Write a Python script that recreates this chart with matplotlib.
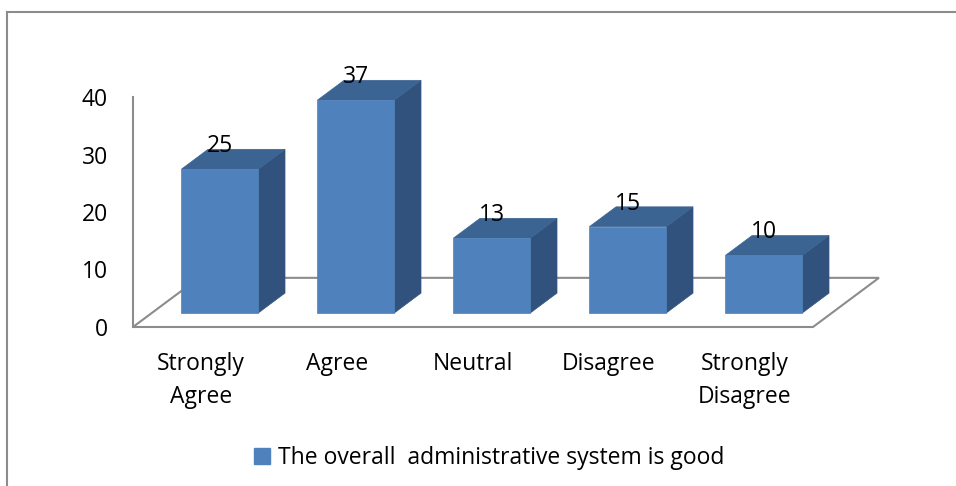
import numpy as np
import matplotlib
matplotlib.use("Agg")
import matplotlib.pyplot as plt
from matplotlib.patches import Polygon, Patch
from matplotlib.lines import Line2D

# Chart data
categories = ["Strongly\nAgree", "Agree", "Neutral", "Disagree", "Strongly\nDisagree"]
values = [25, 37, 13, 15, 10]
series_name = "The overall  administrative system is good"
y_ticks = [0, 10, 20, 30, 40]

plt.rcParams['font.family'] = ['Open Sans', 'DejaVu Sans']

FRONT = '#4F81BD'
TOP = '#3C6493'
SIDE = '#31527C'
GRID = '#8C8C8C'
FS = 16.5

# depth projection (in data units of the front plane)
DX = 0.485
DY = 8.55
BAR_D0, BAR_D1 = 0.286, 0.69
BAR_W = 0.566


def project(x, v, d):
    return (x + d * DX, v + d * DY)


def draw_bar(ax, i, v):
    x0 = i + 0.5 - BAR_W / 2
    x1 = i + 0.5 + BAR_W / 2
    front = [project(x0, 0, BAR_D0), project(x1, 0, BAR_D0),
             project(x1, v, BAR_D0), project(x0, v, BAR_D0)]
    top = [project(x0, v, BAR_D0), project(x1, v, BAR_D0),
           project(x1, v, BAR_D1), project(x0, v, BAR_D1)]
    side = [project(x1, 0, BAR_D0), project(x1, 0, BAR_D1),
            project(x1, v, BAR_D1), project(x1, v, BAR_D0)]
    for pts, col in [(side, SIDE), (top, TOP), (front, FRONT)]:
        ax.add_patch(Polygon(pts, closed=True, facecolor=col,
                             edgecolor=col, linewidth=0.5, clip_on=False, zorder=3))
    lx, ly = project(i + 0.5, v, BAR_D0)
    ax.annotate(str(v), (lx, ly), xytext=(0, 8), textcoords='offset points',
                ha='center', va='bottom', fontsize=FS, color='black', zorder=5)


def main():
    fig = plt.figure(figsize=(9.56, 4.86), dpi=100)
    ax = fig.add_axes([133 / 956, 159 / 486, 680 / 956, 230 / 486])
    n = len(values)
    ax.set_xlim(0, n)
    ax.set_ylim(0, 40)

    # 1. Floor outline
    floor = [project(0, 0, 0), project(n, 0, 0), project(n, 0, 1), project(0, 0, 1)]
    ax.add_patch(Polygon(floor, closed=True, facecolor='white', edgecolor=GRID,
                         linewidth=1.5, clip_on=False, zorder=1))
    ax.plot([0, 0], [0, 40], color=GRID, linewidth=1.5, clip_on=False, zorder=1)

    # 2. Bars
    for i, v in enumerate(values):
        draw_bar(ax, i, v)

    # 3. Axes and labels
    for s in ax.spines.values():
        s.set_visible(False)
    ax.set_yticks(y_ticks)
    ax.set_xticks(np.arange(n) + 0.5)
    ax.set_xticklabels(categories, fontsize=FS, linespacing=1.5)
    ax.tick_params(axis='y', length=0, pad=18, labelsize=FS)
    ax.tick_params(axis='x', length=0, pad=18)
    ax.patch.set_visible(False)

    # 4. Legend
    handle = Patch(facecolor=FRONT, edgecolor=FRONT)
    fig.legend([handle], [series_name], loc='center', bbox_to_anchor=(0.512, 0.058),
               frameon=False, fontsize=FS, handlelength=0.7, handleheight=0.7,
               handletextpad=0.35)

    # 5. Outer frame (only top and left edges visible)
    fig.add_artist(Line2D([7 / 956, 1], [1 - 12 / 486, 1 - 12 / 486],
                          color='#8C8C8C', linewidth=1.5, transform=fig.transFigure))
    fig.add_artist(Line2D([7 / 956, 7 / 956], [0, 1 - 12 / 486],
                          color='#8C8C8C', linewidth=1.5, transform=fig.transFigure))

    fig.savefig("out.png", dpi=100)
    plt.close(fig)


if __name__ == "__main__":
    main()
